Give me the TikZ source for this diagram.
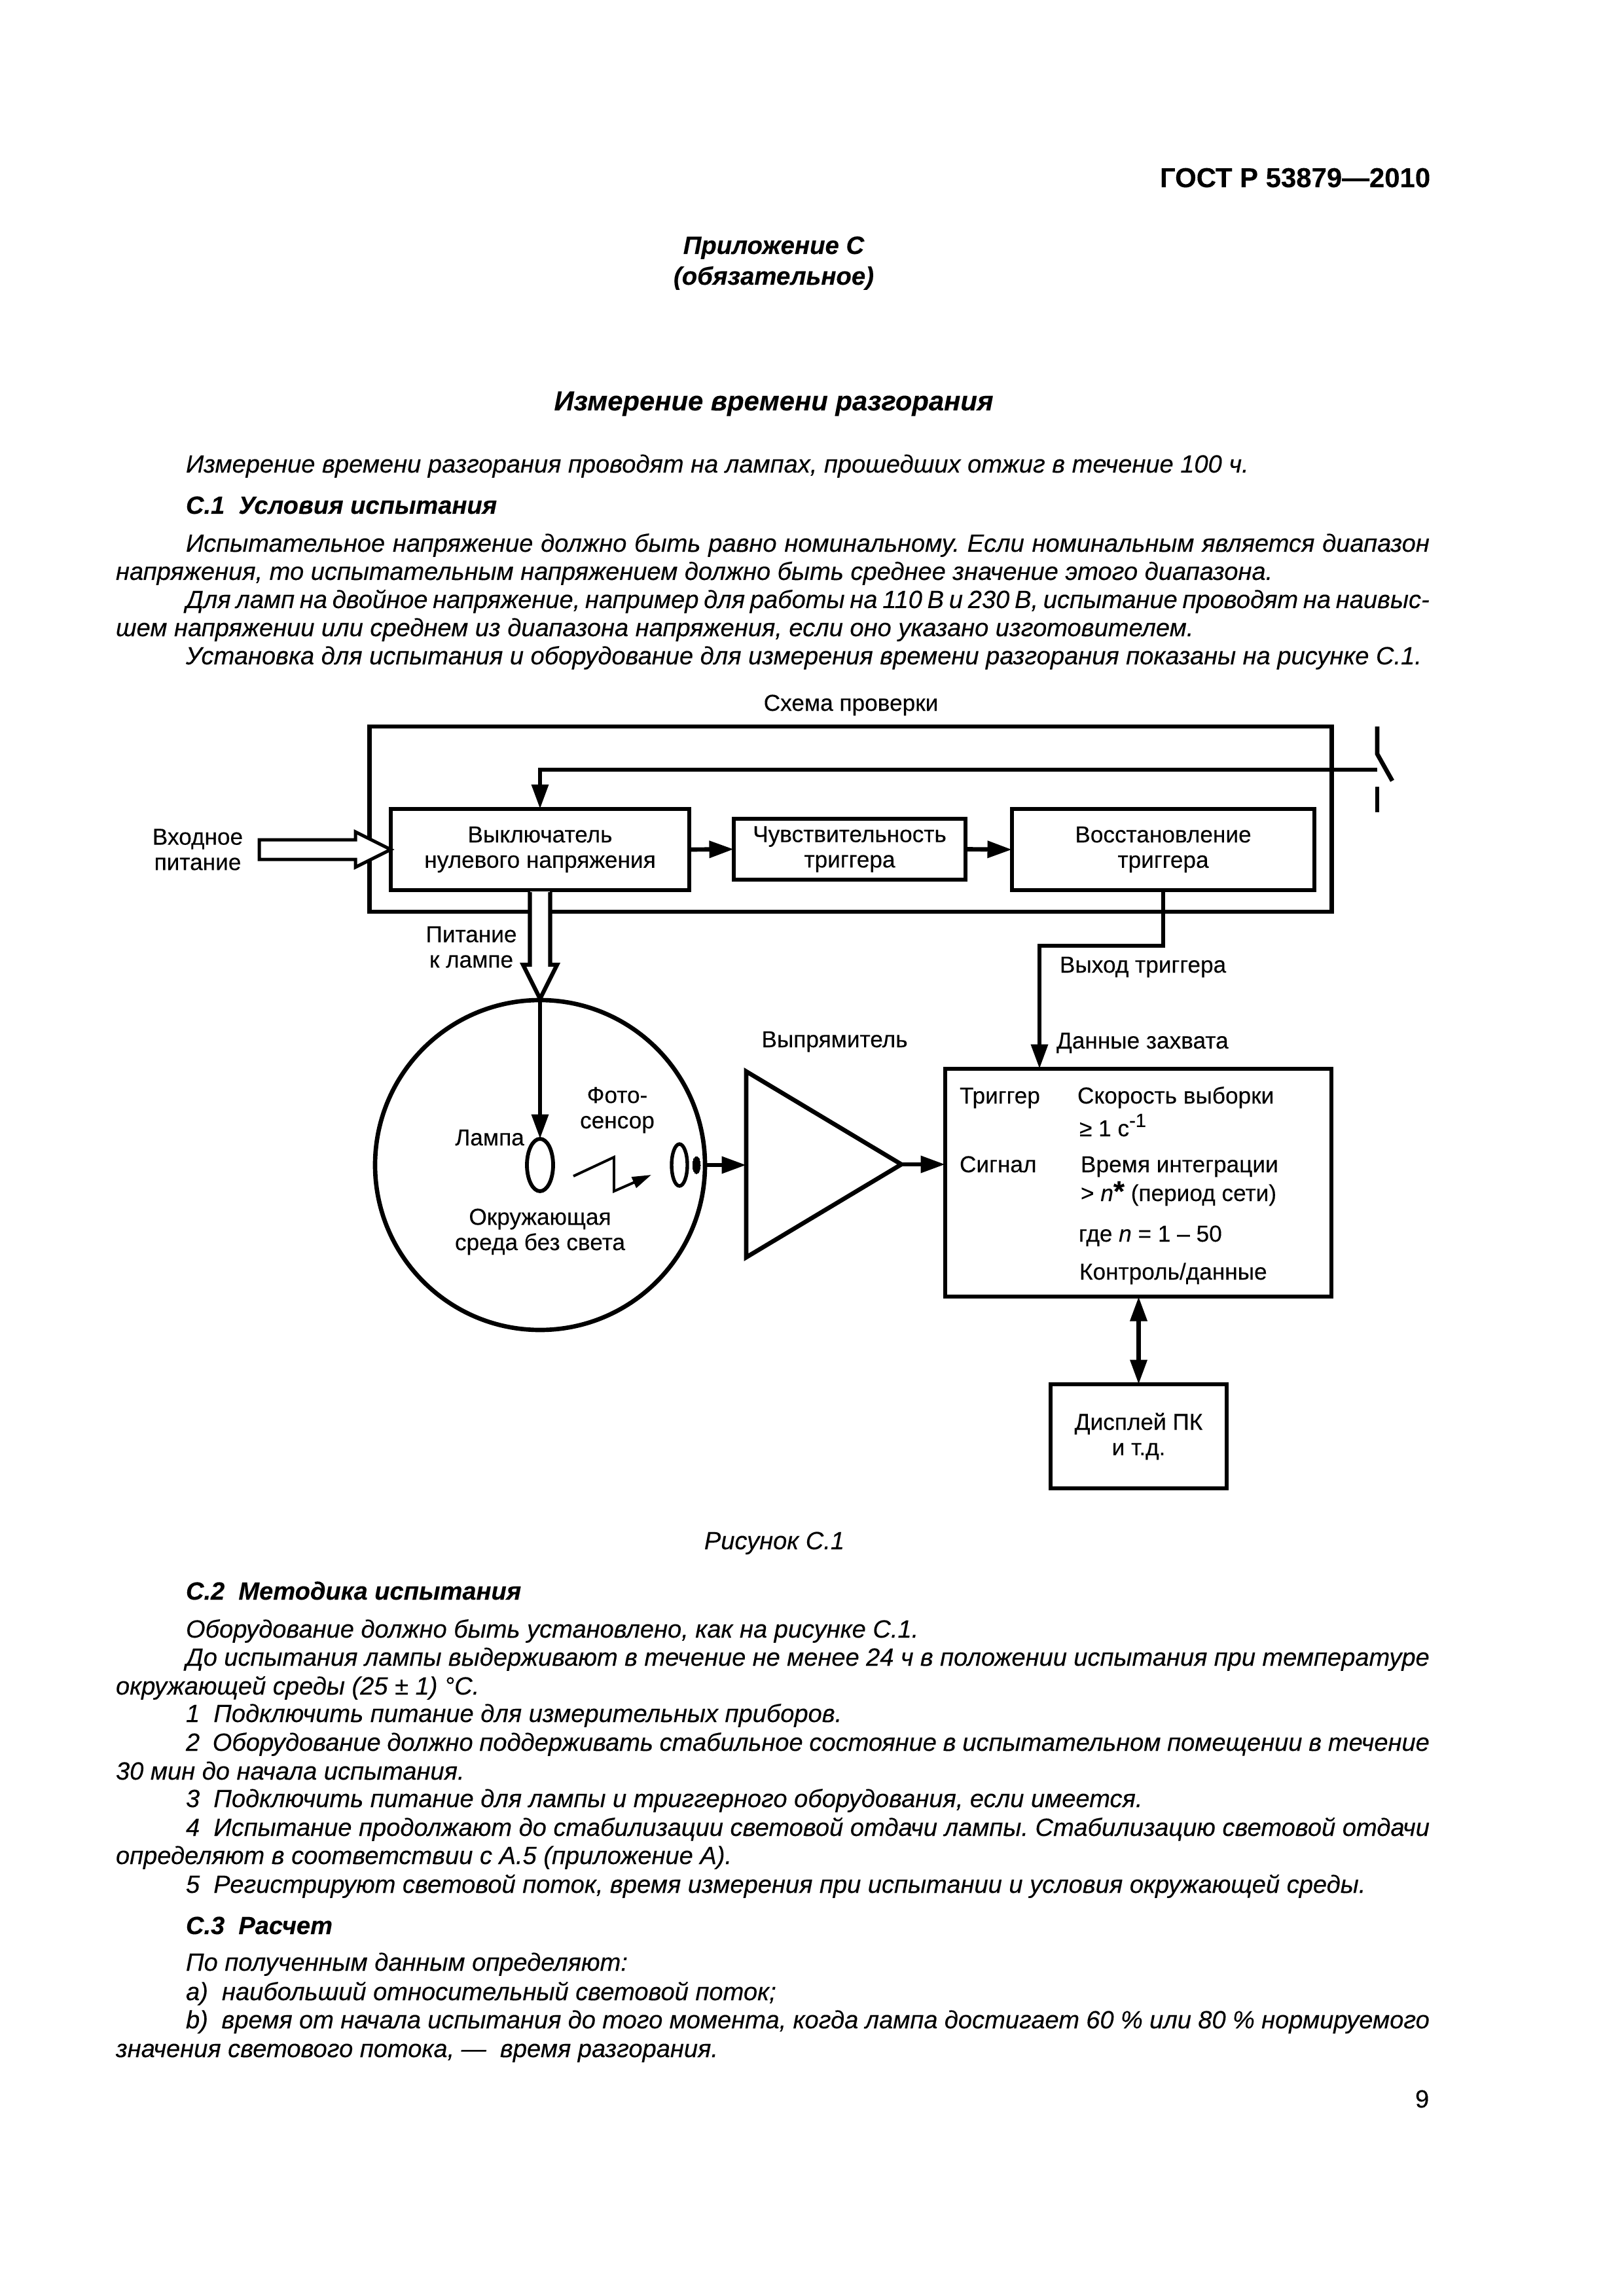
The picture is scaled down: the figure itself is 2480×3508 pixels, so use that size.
\documentclass[tikz,border=0pt]{standalone}
\usepackage{fontspec}
\setmainfont[FakeBold=0.2]{Liberation Sans}
\usetikzlibrary{arrows.meta,calc,shapes.geometric}
\newdimen\unitpx \unitpx=0.24pt
\newcommand{\jline}[5]{\node[bodytxt] (#1) at (#2,#3) {\hbox to #4\unitpx{#5}};}
\newcommand{\fline}[4]{\node[bodytxt] (#1) at (#2,#3) {#4};}
\newcommand{\bodysize}{\fontsize{9.14}{10}\selectfont\frenchspacing}
\newcommand{\diagsize}{\fontsize{8.45}{9.3}\selectfont}
\tikzset{
  x=0.24pt,y=-0.24pt,
  bodytxt/.style={anchor=base west,inner sep=0pt,outer sep=0pt,font=\bodysize\itshape},
  headtxt/.style={anchor=base,inner sep=0pt,outer sep=0pt,font=\fontsize{9.2}{10}\selectfont\bfseries\itshape},
  sectxt/.style={bodytxt,font=\bodysize\bfseries\itshape},
  boxnode/.style={draw,line width=1.6pt,inner sep=0pt,outer sep=0pt,align=center,font=\diagsize},
  lbl/.style={inner sep=0pt,outer sep=0pt,align=center,font=\diagsize},
  lblb/.style={lbl,anchor=base},
  lblw/.style={lbl,anchor=base west},
  conn/.style={line width=1.6pt,-{Triangle[length=9pt,width=6pt]}},
  dconn/.style={line width=1.6pt,{Triangle[length=9pt,width=6pt]}-{Triangle[length=9pt,width=6pt]}},
  plain/.style={line width=1.6pt},
  hollow/.style={draw,fill=white,line join=miter},
}
\begin{document}
\begin{tikzpicture}
\useasboundingbox (0,0) rectangle (2480,3508);
\fill[white] (0,0) rectangle (2480,3508);
% heading
\node[anchor=base east,inner sep=0pt,font=\fontsize{10.05}{11}\selectfont\bfseries] (gost) at (2186,286) {ГОСТ Р 53879—2010};
\node[headtxt] (app) at (1182,388) {Приложение С};
\node[headtxt] (obl) at (1182,435) {(обязательное)};
\node[headtxt,font=\fontsize{10.03}{11}\selectfont\bfseries\itshape] (title) at (1182,627) {Измерение времени разгорания};
% body top
\fline{t1}{284}{722}{Измерение времени разгорания проводят на лампах, прошедших отжиг в течение 100 ч.}
\node[sectxt] (t2) at (284,785) {С.1\ \ Условия испытания};
\jline{t3}{284}{843}{1900}{Испытательное напряжение должно быть равно номинальному. Если номинальным является диапазон}
\fline{t4}{177}{886}{напряжения, то испытательным напряжением должно быть среднее значение этого диапазона.}
\jline{t5}{284}{929}{1900}{Для ламп на двойное напряжение, например для работы на 110 В и 230 В, испытание проводят на наивыс-}
\fline{t6}{177}{972}{шем напряжении или среднем из диапазона напряжения, если оно указано изготовителем.}
\fline{t7}{284}{1015}{Установка для испытания и оборудование для измерения времени разгорания показаны на рисунке С.1.}
% diagram boxes
\node[lblb] (cap) at (1300,1086) {Схема проверки};
\node[draw,line width=1.6pt,inner sep=0pt,outer sep=0pt,minimum width=1470\unitpx,minimum height=283\unitpx] (outer) at (1299.5,1251.5) {};
\node[boxnode,minimum width=456\unitpx,minimum height=124\unitpx] (sw) at (825,1298) {\raisebox{-2\unitpx}{Выключатель}\\\raisebox{-2\unitpx}{нулевого напряжения}};
\node[boxnode,minimum width=354\unitpx,minimum height=93\unitpx] (sens) at (1298,1297.5) {\raisebox{-2\unitpx}{Чувствительность}\\\raisebox{-2\unitpx}{триггера}};
\node[boxnode,minimum width=462\unitpx,minimum height=124\unitpx] (rest) at (1777,1298) {\raisebox{-2\unitpx}{Восстановление}\\\raisebox{-2\unitpx}{триггера}};
\node[lbl] (inp) at (302,1298) {Входное\\питание};
\node[lbl] (pwr) at (720,1447) {Питание\\к лампе};
% enclosure
\node[draw,circle,line width=1.6pt,inner sep=0pt,outer sep=0pt,minimum size=504\unitpx] (env) at (825,1780) {};
\node[draw,ellipse,line width=1.4pt,inner sep=0pt,outer sep=0pt,minimum width=40\unitpx,minimum height=80\unitpx] (lamp) at (825,1780) {};
\node[draw,ellipse,line width=1.3pt,inner sep=0pt,outer sep=0pt,minimum width=24\unitpx,minimum height=64\unitpx] (sensor) at (1038,1780) {};
\node[draw,fill=black,ellipse,line width=0pt,inner sep=0pt,outer sep=0pt,minimum width=12\unitpx,minimum height=26\unitpx] (dot) at (1064,1780) {};
\node[lblb] (lampt) at (748,1750) {Лампа};
\node[lbl] (photo) at (943,1696) {Фото-\\сенсор};
\node[lbl] (dark) at (825,1882) {Окружающая\\среда без света};
% zigzag
\coordinate (z0) at (876,1797);
\coordinate (z1) at (938,1768);
\coordinate (z2) at (938,1820);
\coordinate (z3) at (995,1795);
\draw[line width=0.95pt,-{Triangle[length=7pt,width=4.2pt]}] (z0) -- (z1) -- (z2) -- (z3);
% rectifier
\coordinate (tria) at (1140,1637);
\coordinate (trib) at (1377,1779);
\coordinate (tric) at (1140,1921);
\coordinate (triin) at (1140,1780);
\draw[line width=1.6pt,line join=miter] (tria) -- (trib) -- (tric) -- cycle;
\node[lblb] (recl) at (1275,1600) {Выпрямитель};
% data box
\node[boxnode,minimum width=590\unitpx,minimum height=348\unitpx] (data) at (1739,1807) {};
\node[lblw] (d1) at (1466,1686) {Триггер};
\node[lblw] (d2) at (1646,1686) {Скорость выборки};
\node[lblw] (d3) at (1649,1736) {≥ 1 с\raisebox{3.4pt}{\fontsize{7}{7}\selectfont -1}};
\node[lblw] (d4) at (1466,1791) {Сигнал};
\node[lblw] (d5) at (1651,1791) {Время интеграции};
\node[lblw] (d6) at (1651,1835) {> \textit{n}{\fontsize{10.5}{10}\selectfont\bfseries *} (период сети)};
\node[lblw] (d7) at (1648,1897) {где \textit{n} = 1 – 50};
\node[lblw] (d8) at (1649,1955) {Контроль/данные};
\node[boxnode,minimum width=269\unitpx,minimum height=159\unitpx] (disp) at (1739.5,2194.5) {Дисплей ПК\\и т.д.};
\node[lblw] (out) at (1619,1486) {Выход триггера};
\node[lblw] (capd) at (1614,1602) {Данные захвата};
% connectors
\coordinate (swa) at (2104,1110);
\coordinate (swb) at (2104,1176);
\coordinate (swc) at (2104,1152);
\coordinate (swd) at (2127,1193);
\coordinate (swe) at (2104,1202);
\coordinate (swf) at (2104,1241);
\draw[plain] (swa) -- (swc) -- (swd);
\draw[plain] (swe) -- (swf);
\draw[conn] (swb) -| (sw.north);
\draw[conn] (sw.east) -- (sens.west);
\draw[conn] (sens.east) -- (rest.west);
\coordinate (bend) at (1588,1445);
\coordinate (datatop) at (1588,1633);
\draw[conn] (rest.south) |- (bend) -- (datatop);
\draw[conn] (dot.east -| env.east) -- (triin);
\draw[conn] (trib) -- (data.west |- trib);
\draw[dconn] (data.south -| disp.north) -- (disp.north);
% hollow arrows
\coordinate (inA) at (396,1298);
\draw[hollow,line width=1.2pt] ($(inA)+(0,-15)$) -- ++(147,0) -- ++(0,-12) -- (sw.west) -- ($(inA)+(147,27)$) -- ++(0,-12) -- ($(inA)+(0,15)$) -- cycle;
\coordinate (hTip) at (825,1526);
\fill[white] ($(sw.south)+(-15,2)$) rectangle ($(sw.south)+(15,50)$);
\draw[hollow,line width=1.5pt] ($(sw.south)+(-15.5,3)$) -- ($(hTip)+(-15.5,-52)$) -- ($(hTip)+(-26,-52)$) -- (hTip) -- ($(hTip)+(26,-52)$) -- ($(hTip)+(15.5,-52)$) -- ($(sw.south)+(15.5,3)$);
\draw[conn] (hTip) -- (lamp.north);
% lower
\node[anchor=base,inner sep=0pt,font=\bodysize\itshape] (fig) at (1183,2367) {Рисунок С.1};
\node[sectxt] (b1) at (284,2444) {С.2\ \ Методика испытания};
\fline{b2}{284}{2502}{Оборудование должно быть установлено, как на рисунке С.1.}
\jline{b3}{284}{2545}{1900}{До испытания лампы выдерживают в течение не менее 24 ч в положении испытания при температуре}
\fline{b4}{177}{2589}{окружающей среды (25 ± 1) °С.}
\fline{b5}{284}{2631}{1\ \ Подключить питание для измерительных приборов.}
\jline{b6}{284}{2675}{1900}{2\ \ Оборудование должно поддерживать стабильное состояние в испытательном помещении в течение}
\fline{b7}{177}{2719}{30 мин до начала испытания.}
\fline{b8}{284}{2761}{3\ \ Подключить питание для лампы и триггерного оборудования, если имеется.}
\jline{b9}{284}{2805}{1900}{4\ \ Испытание продолжают до стабилизации световой отдачи лампы. Стабилизацию световой отдачи}
\fline{b10}{177}{2848}{определяют в соответствии с А.5 (приложение А).}
\fline{b11}{284}{2892}{5\ \ Регистрируют световой поток, время измерения при испытании и условия окружающей среды.}
\node[sectxt] (b12) at (284,2955) {С.3\ \ Расчет};
\fline{b13}{284}{3011}{По полученным данным определяют:}
\fline{b14}{284}{3056}{a)\ \ наибольший относительный световой поток;}
\jline{b15}{284}{3099}{1900}{b)\ \ время от начала испытания до того момента, когда лампа достигает 60 \% или 80 \% нормируемого}
\fline{b16}{177}{3143}{значения светового потока, —\ \ время разгорания.}
\node[anchor=base east,inner sep=0pt,font=\bodysize] (pg) at (2184,3220) {9};
\end{tikzpicture}
\end{document}
